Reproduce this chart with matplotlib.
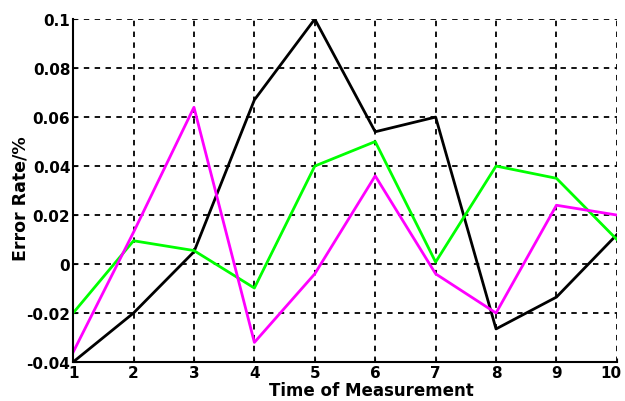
import matplotlib
matplotlib.use('Agg')
import matplotlib.pyplot as plt
from matplotlib.transforms import offset_copy

# measurement index and error rate of the three series
times = [1, 2, 3, 4, 5, 6, 7, 8, 9, 10]
err_black = [-0.04, -0.02, 0.005, 0.067, 0.1, 0.054, 0.06, -0.0265, -0.0135, 0.012]
err_green = [-0.02, 0.0095, 0.0055, -0.0098, 0.04, 0.05, 0.0008, 0.04, 0.035, 0.01]
err_magenta = [-0.036, 0.013, 0.064, -0.032, -0.004, 0.036, -0.004, -0.02, 0.024, 0.02]

y_ticks = [-0.04, -0.02, 0, 0.02, 0.04, 0.06, 0.08, 0.1]
y_tick_labels = ['-0.04', '-0.02', '0', '0.02', '0.04', '0.06', '0.08', '0.1']

plt.rcParams['font.family'] = ['DejaVu Sans']
plt.rcParams['font.weight'] = 'bold'

fig = plt.figure(figsize=(6.25, 4.02), dpi=100)
ax = fig.add_axes([0.117, 0.097, 0.870, 0.853])

ax.plot(times, err_black, color='black', lw=2)
ax.plot(times, err_green, color='#00ff00', lw=2)
ax.plot(times, err_magenta, color='#ff00ff', lw=2)

ax.set_xlim(1, 10)
ax.set_ylim(-0.04, 0.1)
ax.set_xticks(times)
ax.set_yticks(y_ticks)
ax.set_yticklabels(y_tick_labels)
ax.tick_params(labelsize=11, length=3, direction='in', pad=2)
for lab in ax.get_xticklabels() + ax.get_yticklabels():
    lab.set_fontweight('bold')

# last x label sits a bit inside so it isn't clipped
last = ax.get_xticklabels()[-1]
last.set_transform(offset_copy(last.get_transform(), fig=fig, x=-6, units='dots'))

ax.grid(True, color='black', linestyle=(0, (3, 3)), linewidth=1.3)
ax.spines['top'].set_visible(False)
ax.spines['right'].set_visible(False)
ax.spines['left'].set_linewidth(1.5)
ax.spines['bottom'].set_linewidth(1.5)

ax.set_xlabel('Time of Measurement', fontsize=12, fontweight='bold')
ax.xaxis.set_label_coords(0.548, -0.055)
ax.set_ylabel('Error Rate/%', fontsize=12.5, fontweight='bold')
ax.yaxis.set_label_coords(-0.08, 0.48)

fig.savefig('out.png', dpi=100)
